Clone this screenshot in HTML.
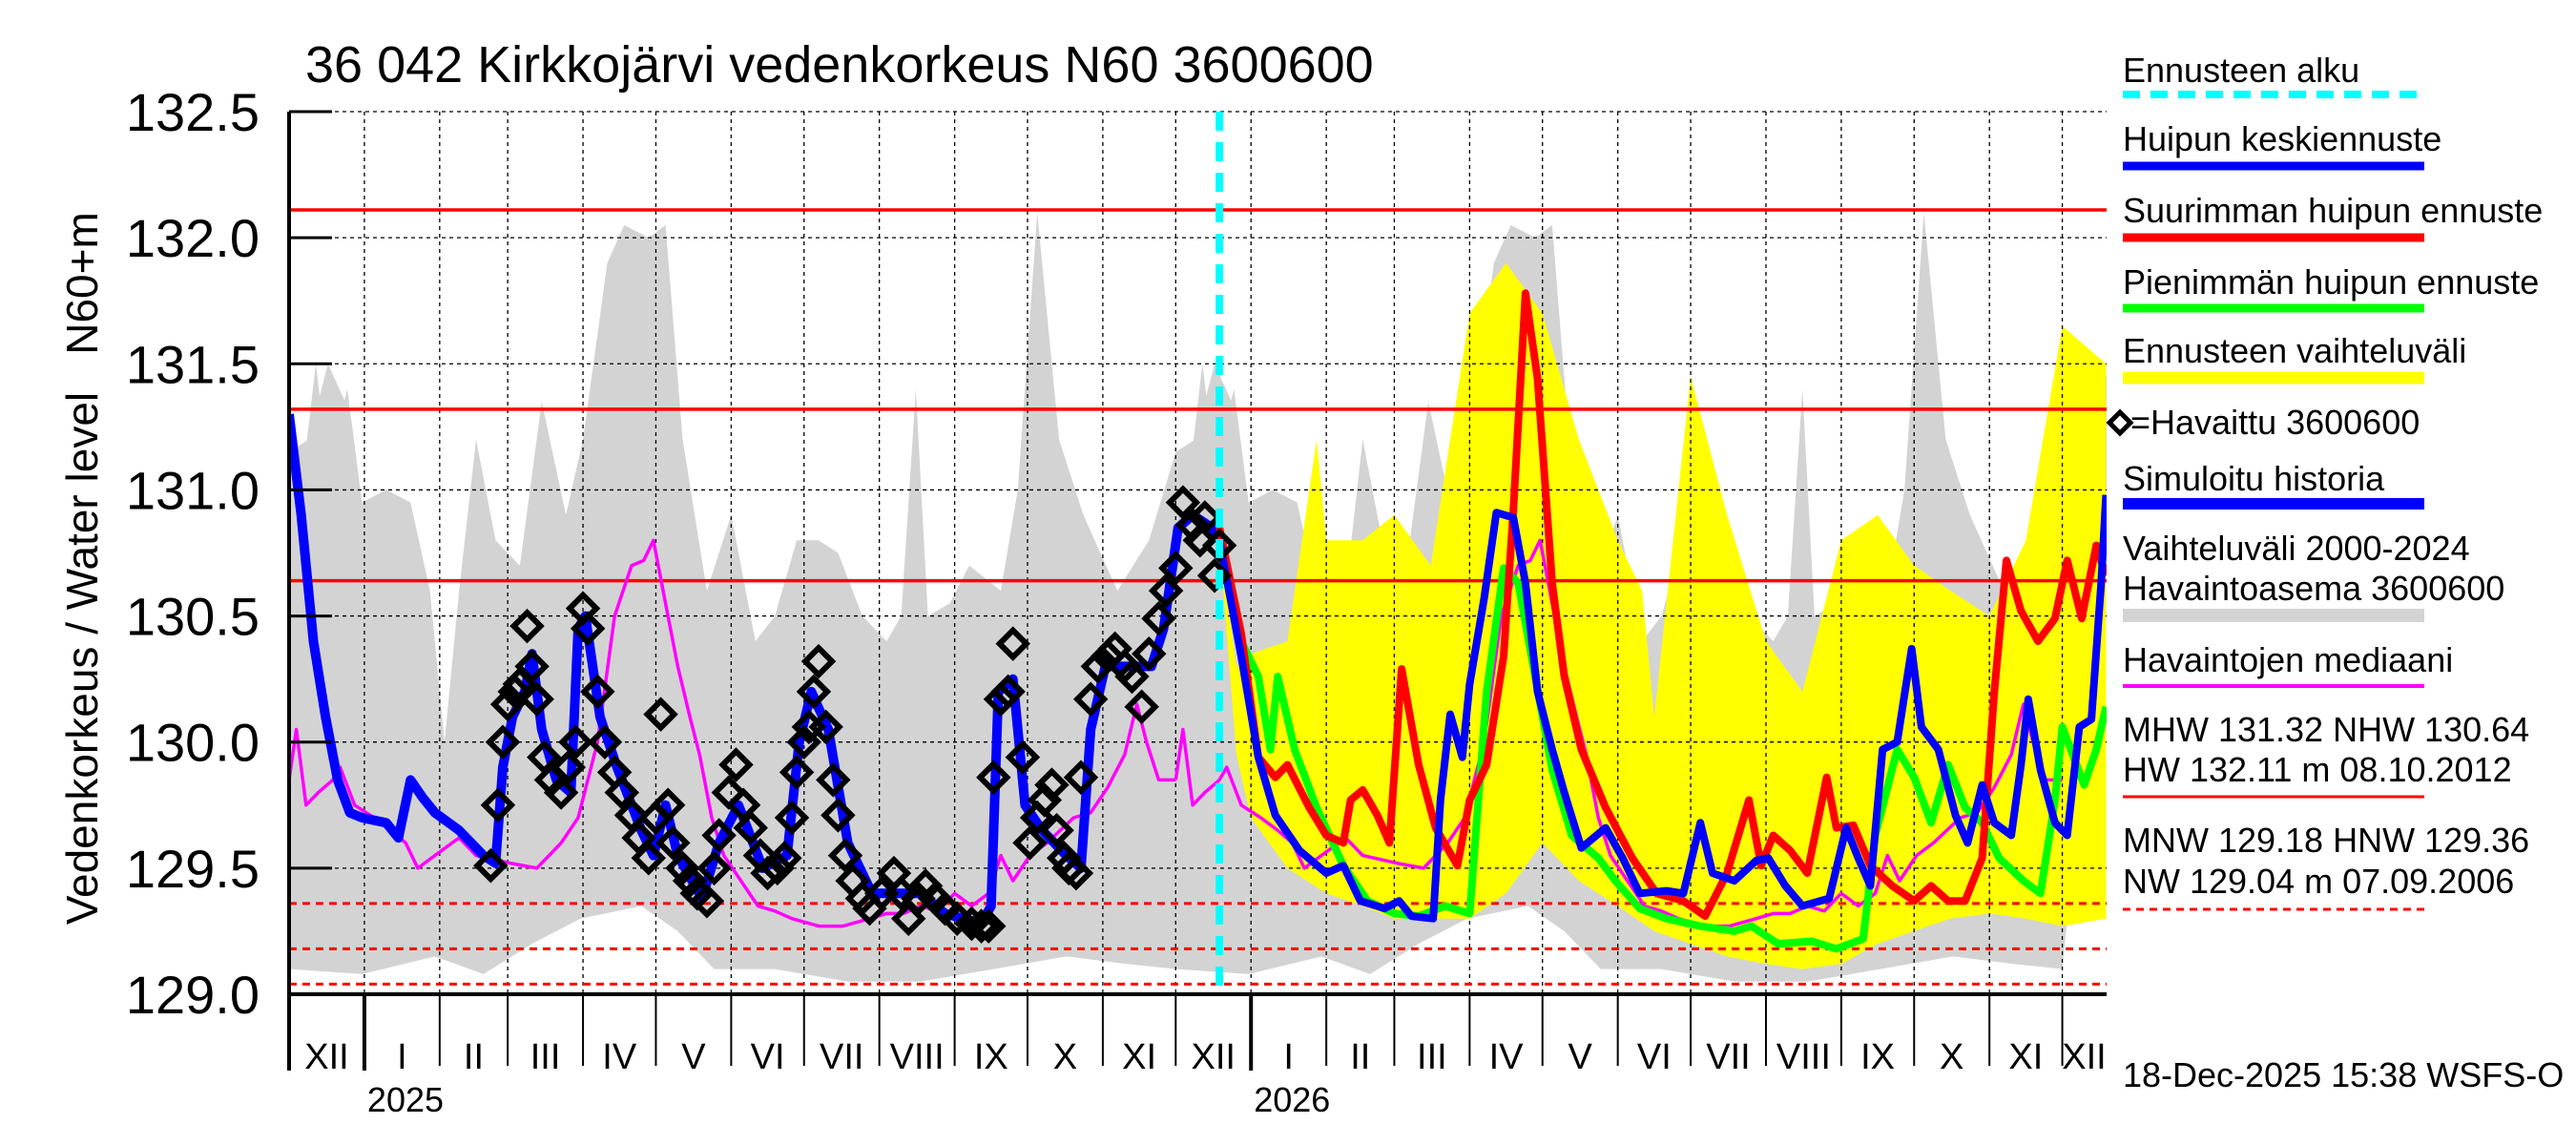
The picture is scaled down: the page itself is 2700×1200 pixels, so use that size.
<!DOCTYPE html>
<html><head><meta charset="utf-8"><style>
html,body{margin:0;padding:0;background:#fff;}
svg{display:block;font-family:"Liberation Sans",Arial,sans-serif;}
</style></head><body>
<svg id="chart" width="2700" height="1200" viewBox="0 0 2700 1200" xmlns="http://www.w3.org/2000/svg">
<defs><clipPath id="plotclip"><rect x="303" y="117" width="1905" height="925"/></clipPath></defs>
<rect x="0" y="0" width="2700" height="1200" fill="#fff"/>
<text x="320" y="86" font-size="54">36 042 Kirkkojärvi vedenkorkeus N60 3600600</text>
<g id="bands" clip-path="url(#plotclip)"></g>
<g id="grid"></g>
<g id="refs"></g>
<g id="series" clip-path="url(#plotclip)"></g>
<g id="axes"></g>
<text transform="translate(102,690) rotate(-90)" text-anchor="middle" font-size="46">Vedenkorkeus / Water level</text>
<text transform="translate(102,297) rotate(-90)" text-anchor="middle" font-size="46">N60+m</text>
<g id="legend" font-size="36">
  <text x="2225" y="86">Ennusteen alku</text>
  <line x1="2225" y1="99" x2="2541" y2="99" stroke="#00ffff" stroke-width="8" stroke-dasharray="18,11"/>
  <text x="2225" y="158">Huipun keskiennuste</text>
  <line x1="2225" y1="174" x2="2541" y2="174" stroke="#0000ff" stroke-width="9"/>
  <text x="2225" y="233">Suurimman huipun ennuste</text>
  <line x1="2225" y1="249" x2="2541" y2="249" stroke="#ff0000" stroke-width="9"/>
  <text x="2225" y="308">Pienimmän huipun ennuste</text>
  <line x1="2225" y1="323" x2="2541" y2="323" stroke="#00ff00" stroke-width="9"/>
  <text x="2225" y="380">Ennusteen vaihteluväli</text>
  <line x1="2225" y1="396" x2="2541" y2="396" stroke="#ffff00" stroke-width="13"/>
  <path d="M2211,443 l11,-11 l11,11 l-11,11 z" fill="none" stroke="#000" stroke-width="5"/>
  <text x="2233" y="455">=Havaittu 3600600</text>
  <text x="2225" y="514">Simuloitu historia</text>
  <line x1="2225" y1="528" x2="2541" y2="528" stroke="#0000ff" stroke-width="12"/>
  <text x="2225" y="587">Vaihteluväli 2000-2024</text>
  <text x="2225" y="629">Havaintoasema 3600600</text>
  <line x1="2225" y1="645" x2="2541" y2="645" stroke="#d3d3d3" stroke-width="14"/>
  <text x="2225" y="704">Havaintojen mediaani</text>
  <line x1="2225" y1="719" x2="2541" y2="719" stroke="#ff00ff" stroke-width="4"/>
  <text x="2225" y="777">MHW 131.32 NHW 130.64</text>
  <text x="2225" y="819">HW 132.11 m 08.10.2012</text>
  <line x1="2225" y1="835" x2="2541" y2="835" stroke="#ff0000" stroke-width="3"/>
  <text x="2225" y="893">MNW 129.18 HNW 129.36</text>
  <text x="2225" y="936">NW 129.04 m 07.09.2006</text>
  <line x1="2225" y1="953" x2="2541" y2="953" stroke="#ff0000" stroke-width="3" stroke-dasharray="8,6"/>
  <text x="2225" y="1139">18-Dec-2025 15:38 WSFS-O</text>
</g>
<script>
// ---- data ----
const yTicks = [129.0, 129.5, 130.0, 130.5, 131.0, 131.5, 132.0, 132.5];
const monthDays = [0,31,62,90,121,151,182,212,243,274,304,335,365,396,427,455,486,516,547,577,608,639,669,700,730,748];
const monthLabels = ["XII","I","II","III","IV","V","VI","VII","VIII","IX","X","XI","XII","I","II","III","IV","V","VI","VII","VIII","IX","X","XI","XII"];
const yearDays = [31,396];
const yearLabels = ["2025","2026"];
const refSolid = [132.11, 131.32, 130.64];
const refDotted = [129.36, 129.18, 129.04];
const forecastStartDay = 383;
// climatology (day of year from Dec 1)
const climTopDoy = [0,5,11,16,24,30,40,50,58,64,70,77,85,95,104,114,121,131,138,148,155,162,172,182,192,200,209,218,226,236,246,252,258,263,272,280,293,300,308,317,327,341,354,365,373,381,388];
const climTopVal = [131.15,131.0,131.5,131.1,131.4,130.95,131.0,130.95,130.6,130.0,130.6,131.2,130.8,130.7,131.35,130.9,131.2,131.9,132.05,132.0,132.05,131.2,130.6,130.9,130.4,130.5,130.8,130.8,130.75,130.5,130.4,130.5,131.4,130.5,130.55,130.7,130.6,131.0,132.1,131.2,130.9,130.6,130.8,131.15,131.2,131.5,131.35];
const climBotDoy = [0,30,60,80,100,120,145,160,175,200,230,260,290,320,345,365];
const climBotVal = [129.1,129.08,129.15,129.08,129.2,129.3,129.35,129.25,129.1,129.1,129.05,129.05,129.1,129.15,129.12,129.1];
const medDoy = [0,3,7,12,18,21,27,35,42,48,53,60,70,77,91,102,112,119,127,134,141,146,150,155,160,165,169,174,179,186,193,200,207,218,228,239,246,253,260,267,274,281,288,293,298,305,312,323,330,337,344,349,353,358,365];
const medVal = [129.85,130.05,129.75,129.8,129.85,129.9,129.75,129.7,129.65,129.6,129.5,129.55,129.62,129.55,129.52,129.5,129.6,129.7,130.0,130.5,130.7,130.72,130.8,130.55,130.3,130.1,129.95,129.7,129.55,129.45,129.35,129.33,129.3,129.27,129.27,129.3,129.32,129.32,129.35,129.33,129.4,129.35,129.4,129.55,129.45,129.55,129.6,129.7,129.72,129.82,129.95,130.15,130.0,129.85,129.85];
// forecast range
const fcTopDays = [383,390,396,411,423,427,442,455,470,486,501,516,531,547,557,562,577,592,608,623,639,654,669,684,700,715,730,748];
const fcTopVal  = [130.8,130.3,130.35,130.4,131.2,130.8,130.8,130.9,130.7,131.7,131.9,131.7,131.2,130.8,130.6,130.1,131.45,130.9,130.4,130.2,130.8,130.9,130.7,130.6,130.5,130.8,131.65,131.5];
const fcBotDays = [383,390,396,411,427,442,455,470,486,501,516,531,547,562,577,592,608,623,639,654,669,684,700,715,730,748];
const fcBotVal  = [130.8,129.95,129.7,129.5,129.4,129.35,129.3,129.3,129.3,129.4,129.6,129.45,129.35,129.25,129.2,129.15,129.12,129.1,129.12,129.2,129.25,129.3,129.32,129.3,129.27,129.3];
// simulated history
const simDays = [0,5,10,15,20,25,30,40,45,50,55,60,70,80,85,88,92,97,100,104,110,116,119,122,128,135,145,150,155,160,170,177,185,195,205,210,215,222,230,240,250,260,270,285,289,292,298,303,310,320,326,330,336,345,355,360,366,372,380,383];
const simVal  = [131.3,130.9,130.4,130.1,129.85,129.72,129.7,129.68,129.62,129.85,129.78,129.72,129.65,129.55,129.52,129.9,130.1,130.2,130.35,130.05,129.85,129.8,130.45,130.5,130.1,129.9,129.65,129.55,129.75,129.55,129.38,129.6,129.75,129.5,129.55,130.0,130.2,130.05,129.6,129.4,129.4,129.4,129.32,129.28,129.35,130.2,130.25,129.75,129.65,129.55,129.5,130.05,130.3,130.3,130.3,130.45,130.85,130.9,130.85,130.8];
// observations
const obsDays = [83,86,88,90,93,95,98,100,102,105,108,112,115,118,121,123,127,130,134,137,141,144,148,151,153,156,158,162,165,168,172,175,177,181,184,187,190,194,197,201,204,207,209,212,214,216,218,221,224,226,229,232,236,239,244,249,252,255,259,262,266,270,275,281,285,288,290,293,296,298,302,305,308,311,314,316,319,321,324,326,330,333,337,340,344,347,351,354,358,361,365,368,372,375,377,381,383];
const obsVal  = [129.51,129.75,130.0,130.15,130.2,130.23,130.46,130.3,130.17,129.94,129.85,129.8,129.9,130.0,130.53,130.45,130.2,130.0,129.88,129.8,129.71,129.62,129.54,129.7,130.11,129.75,129.6,129.5,129.45,129.4,129.37,129.5,129.63,129.8,129.91,129.75,129.66,129.55,129.48,129.5,129.54,129.7,129.88,130.0,130.06,130.2,130.32,130.06,129.85,129.71,129.55,129.45,129.38,129.34,129.4,129.48,129.4,129.3,129.38,129.43,129.38,129.34,129.3,129.28,129.27,129.27,129.86,130.17,130.2,130.39,129.94,129.6,129.7,129.77,129.83,129.65,129.54,129.5,129.48,129.86,130.17,130.3,130.34,130.37,130.3,130.26,130.14,130.35,130.49,130.6,130.69,130.95,130.86,130.8,130.89,130.66,130.78];
// forecasts
const meanDays = [383,392,399,406,416,427,434,441,451,457,462,471,474,478,483,486,492,497,504,509,514,520,525,532,542,549,556,567,574,581,586,595,604,609,616,623,634,641,646,651,656,662,668,672,679,686,691,697,702,709,713,716,721,727,732,737,742,746,748];
const meanVal  = [130.8,130.34,129.94,129.71,129.57,129.48,129.51,129.37,129.34,129.37,129.31,129.3,129.77,130.11,129.94,130.23,130.57,130.91,130.89,130.63,130.2,129.97,129.8,129.58,129.66,129.54,129.4,129.41,129.4,129.68,129.48,129.45,129.53,129.54,129.43,129.35,129.38,129.66,129.54,129.43,129.97,130.0,130.37,130.06,129.97,129.71,129.6,129.83,129.68,129.63,129.91,130.17,129.89,129.68,129.63,130.06,130.09,130.63,130.98];
const maxDays = [383,392,399,406,411,420,427,434,437,442,448,453,458,465,472,481,486,493,500,504,509,514,520,525,532,542,553,563,574,583,592,601,606,611,618,625,633,637,644,651,660,669,676,683,690,697,702,707,713,720,727,732,738,744,748];
const maxVal  = [130.85,130.43,129.94,129.86,129.91,129.74,129.63,129.6,129.77,129.81,129.71,129.6,130.29,129.91,129.66,129.51,129.77,129.91,130.34,130.92,131.78,131.44,130.63,130.26,129.97,129.74,129.54,129.4,129.37,129.31,129.48,129.77,129.51,129.63,129.57,129.48,129.86,129.66,129.67,129.51,129.43,129.37,129.43,129.37,129.37,129.54,130.2,130.72,130.52,130.4,130.49,130.72,130.49,130.78,130.66];
const minDays = [383,392,399,404,407,414,423,434,444,455,465,476,486,493,500,506,513,520,528,539,546,556,567,581,595,602,613,627,637,648,653,662,669,676,683,690,697,704,714,721,727,730,739,744,748];
const minVal  = [130.8,130.4,130.26,129.97,130.26,129.97,129.74,129.51,129.37,129.32,129.31,129.35,129.32,130.2,130.69,130.63,130.26,129.89,129.63,129.54,129.45,129.34,129.3,129.27,129.25,129.27,129.2,129.21,129.18,129.22,129.63,129.97,129.86,129.68,129.91,129.74,129.68,129.54,129.45,129.4,129.77,130.06,129.83,129.97,130.14];

// ---- scales ----
const X0 = 303, PX_PER_DAY = 2.546, Y0 = 1042, PX_PER_M = 264.29;
function xs(d){ return X0 + d*PX_PER_DAY; }
function ys(v){ return Y0 - (v-129)*PX_PER_M; }
const NS = "http://www.w3.org/2000/svg";
function mk(tag, attrs, parent){ const e=document.createElementNS(NS,tag); for(const k in attrs) e.setAttribute(k,attrs[k]); parent.appendChild(e); return e; }
function pts(days, vals, off){ return days.map((d,i)=>xs(d+(off||0)).toFixed(1)+","+ys(vals[i]).toFixed(1)); }
const bands=document.getElementById('bands'), grid=document.getElementById('grid'), refs=document.getElementById('refs'), series=document.getElementById('series'), axes=document.getElementById('axes');

[0,365,-365].forEach(off=>{
  const top = pts(climTopDoy, climTopVal, off);
  const bot = pts(climBotDoy, climBotVal, off).reverse();
  const p = mk('polygon',{points: top.concat(bot).join(' '), fill:'#d3d3d3'}, bands);
  
  
});
{
  const top = pts(fcTopDays, fcTopVal);
  const bot = pts(fcBotDays, fcBotVal).reverse();
  const p = mk('polygon',{points: top.concat(bot).join(' '), fill:'#ffff00'}, bands);
  
  
}
yTicks.forEach(v=>{
  if(v===129.0) return;
  const l = mk('line',{x1:X0,x2:2208,y1:ys(v),y2:ys(v),stroke:'#000','stroke-width':1.3,'stroke-dasharray':'4,4'}, grid);
  
  
});
monthDays.forEach((d,i)=>{
  if(i===0 || i===monthDays.length-1) return;
  const l = mk('line',{x1:xs(d),x2:xs(d),y1:117,y2:Y0,stroke:'#000','stroke-width':1.3,'stroke-dasharray':'4,4'}, grid);
  
  
});
refSolid.forEach(v=>{
  const l = mk('line',{x1:X0,x2:2208,y1:ys(v),y2:ys(v),stroke:'#ff0000','stroke-width':3.5}, refs);
  
  
});
refDotted.forEach(v=>{
  const l = mk('line',{x1:X0,x2:2208,y1:ys(v),y2:ys(v),stroke:'#ff0000','stroke-width':3,'stroke-dasharray':'8,6'}, refs);
  
  
});
[0,365].forEach(off=>{
  const l = mk('polyline',{points: pts(medDoy, medVal, off).join(' '), fill:'none', stroke:'#ff00ff','stroke-width':3.5,'stroke-linejoin':'round'}, series);
  
  
});
{
  const l = mk('polyline',{points: pts(simDays, simVal).join(' '), fill:'none', stroke:'#0000ff','stroke-width':10,'stroke-linejoin':'round'}, series);
  
  
}
[[minDays,minVal,'#00ff00','min-peak-forecast-line'],[maxDays,maxVal,'#ff0000','max-peak-forecast-line'],[meanDays,meanVal,'#0000ff','mean-peak-forecast-line']].forEach(s=>{
  const l = mk('polyline',{points: pts(s[0], s[1]).join(' '), fill:'none', stroke:s[2],'stroke-width':8,'stroke-linejoin':'round'}, series);
  
  
});
obsDays.forEach((d,i)=>{
  const cx=xs(d), cy=ys(obsVal[i]);
  const p = mk('path',{d:`M${cx-14},${cy} L${cx},${cy-14} L${cx+14},${cy} L${cx},${cy+14} Z`, fill:'none', stroke:'#000','stroke-width':6}, series);
  
  
});
{
  const l = mk('line',{x1:xs(forecastStartDay),x2:xs(forecastStartDay),y1:117,y2:Y0,stroke:'#00ffff','stroke-width':8,'stroke-dasharray':'20,12'}, series);
  
  
}
mk('line',{x1:X0,x2:X0,y1:117,y2:Y0+80,stroke:'#000','stroke-width':4}, axes);
mk('line',{x1:X0,x2:2208,y1:Y0,y2:Y0,stroke:'#000','stroke-width':4}, axes);
yTicks.forEach(v=>{
  mk('line',{x1:X0,x2:X0+45,y1:ys(v),y2:ys(v),stroke:'#000','stroke-width':3}, axes);
  const t = mk('text',{x:272,y:ys(v)+20,'text-anchor':'end','font-size':56}, axes);
  t.textContent = v.toFixed(1);
  
  
});
monthDays.forEach((d,i)=>{
  if(i===0 || i===monthDays.length-1) return;
  const isYear = yearDays.includes(d);
  mk('line',{x1:xs(d),x2:xs(d),y1:Y0,y2:Y0+(isYear?80:75),stroke:'#000','stroke-width':isYear?4:2}, axes);
});
monthLabels.forEach((m,i)=>{
  const c = (xs(monthDays[i])+xs(monthDays[i+1]))/2;
  const t = mk('text',{x:c,y:1120,'text-anchor':'middle','font-size':38}, axes);
  t.textContent = m;
  
  
});
yearLabels.forEach((y,i)=>{
  const t = mk('text',{x:xs(yearDays[i])+3,y:1165,'font-size':36}, axes);
  t.textContent = y;
  
  
});
</script>
</svg>
</body></html>
